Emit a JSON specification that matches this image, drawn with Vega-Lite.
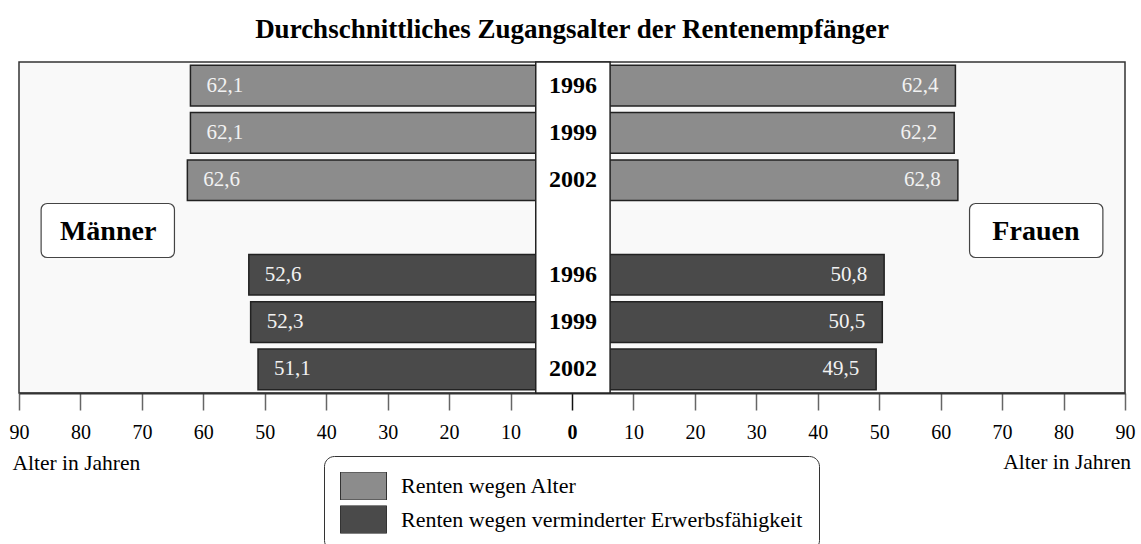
{
  "$schema": "https://vega.github.io/schema/vega-lite/v6.json",
  "width": 1106,
  "height": 331,
  "autosize": {"type": "none"},
  "padding": {"left": 19, "top": 62, "right": 16, "bottom": 151},
  "background": "white",
  "config": {
    "font": "Liberation Serif",
    "locale": {"number": {"decimal": ",", "thousands": ".", "grouping": [3], "currency": ["", " €"]}},
    "view": {"fill": "#f9f9f9", "stroke": "#333333", "strokeWidth": 1.5},
    "axisY": {"disable": true},
    "axisX": {
      "titleFont": "Liberation Serif",
      "titleFontSize": 21.5,
      "titleFontWeight": "normal",
      "titleColor": "black",
      "titleAnchor": "start",
      "titleAlign": "left",
      "titleBaseline": "alphabetic",
      "titleX": -7,
      "titleY": 76,
      "labelFont": "Liberation Serif",
      "labelFontSize": 20,
      "labelColor": "black",
      "labelPadding": 12,
      "labelFlush": false,
      "labelOverlap": false,
      "domainColor": "#333333",
      "domainWidth": 2,
      "tickWidth": 1.5,
      "tickSize": 17,
      "grid": false
    }
  },
  "title": {
    "text": "Durchschnittliches Zugangsalter der Rentenempfänger",
    "font": "Liberation Serif",
    "fontSize": 27,
    "fontWeight": "bold",
    "color": "black",
    "anchor": "middle",
    "offset": 17
  },
  "datasets": {
    "renten": [
      {"Seite": "Männer", "Art": "Renten wegen Alter", "Jahr": "1996", "Zeile": "Alter 1996", "Alter": 62.1, "Wert": -62.1},
      {"Seite": "Männer", "Art": "Renten wegen Alter", "Jahr": "1999", "Zeile": "Alter 1999", "Alter": 62.1, "Wert": -62.1},
      {"Seite": "Männer", "Art": "Renten wegen Alter", "Jahr": "2002", "Zeile": "Alter 2002", "Alter": 62.6, "Wert": -62.6},
      {"Seite": "Männer", "Art": "Renten wegen verminderter Erwerbsfähigkeit", "Jahr": "1996", "Zeile": "Erwerbsminderung 1996", "Alter": 52.6, "Wert": -52.6},
      {"Seite": "Männer", "Art": "Renten wegen verminderter Erwerbsfähigkeit", "Jahr": "1999", "Zeile": "Erwerbsminderung 1999", "Alter": 52.3, "Wert": -52.3},
      {"Seite": "Männer", "Art": "Renten wegen verminderter Erwerbsfähigkeit", "Jahr": "2002", "Zeile": "Erwerbsminderung 2002", "Alter": 51.1, "Wert": -51.1},
      {"Seite": "Frauen", "Art": "Renten wegen Alter", "Jahr": "1996", "Zeile": "Alter 1996", "Alter": 62.4, "Wert": 62.4},
      {"Seite": "Frauen", "Art": "Renten wegen Alter", "Jahr": "1999", "Zeile": "Alter 1999", "Alter": 62.2, "Wert": 62.2},
      {"Seite": "Frauen", "Art": "Renten wegen Alter", "Jahr": "2002", "Zeile": "Alter 2002", "Alter": 62.8, "Wert": 62.8},
      {"Seite": "Frauen", "Art": "Renten wegen verminderter Erwerbsfähigkeit", "Jahr": "1996", "Zeile": "Erwerbsminderung 1996", "Alter": 50.8, "Wert": 50.8},
      {"Seite": "Frauen", "Art": "Renten wegen verminderter Erwerbsfähigkeit", "Jahr": "1999", "Zeile": "Erwerbsminderung 1999", "Alter": 50.5, "Wert": 50.5},
      {"Seite": "Frauen", "Art": "Renten wegen verminderter Erwerbsfähigkeit", "Jahr": "2002", "Zeile": "Erwerbsminderung 2002", "Alter": 49.5, "Wert": 49.5}
    ]
  },
  "layer": [
    {
      "data": {"name": "renten"},
      "mark": {"type": "bar", "stroke": "#222222", "strokeWidth": 1.5},
      "encoding": {
        "x": {
          "field": "Wert",
          "type": "quantitative",
          "title": "Alter in Jahren",
          "scale": {"domain": [-90, 90], "nice": false, "zero": true},
          "axis": {
            "values": [-90, -80, -70, -60, -50, -40, -30, -20, -10, 0, 10, 20, 30, 40, 50, 60, 70, 80, 90],
            "labelExpr": "abs(datum.value)",
            "labelFontWeight": {"condition": {"test": "datum.value === 0", "value": "bold"}, "value": "normal"},
            "tickColor": {"condition": {"test": "datum.value === 0", "value": "#111111"}, "value": "#666666"}
          }
        },
        "y": {
          "field": "Zeile",
          "type": "nominal",
          "scale": {
            "type": "band",
            "domain": ["Alter 1996", "Alter 1999", "Alter 2002", "Geschlecht", "Erwerbsminderung 1996", "Erwerbsminderung 1999", "Erwerbsminderung 2002"],
            "paddingInner": 0.14,
            "paddingOuter": 0.07
          }
        },
        "color": {
          "field": "Art",
          "type": "nominal",
          "scale": {
            "domain": ["Renten wegen Alter", "Renten wegen verminderter Erwerbsfähigkeit"],
            "range": ["#8c8c8c", "#4a4a4a"]
          },
          "legend": {
            "title": null,
            "orient": "none",
            "legendX": 305,
            "legendY": 394,
            "direction": "vertical",
            "fillColor": "white",
            "strokeColor": "#333333",
            "cornerRadius": 10,
            "padding": 16,
            "symbolType": "M-1,-0.609L1,-0.609L1,0.609L-1,0.609Z",
            "symbolSize": 2116,
            "symbolStrokeColor": "#333333",
            "symbolStrokeWidth": 1,
            "symbolOpacity": 1,
            "clipHeight": 28,
            "rowPadding": 5.5,
            "labelOffset": 14,
            "labelFont": "Liberation Serif",
            "labelFontSize": 22,
            "labelColor": "black",
            "labelLimit": 700
          }
        }
      }
    },
    {
      "data": {"name": "renten"},
      "transform": [{"filter": "datum.Seite === 'Männer'"}],
      "mark": {"type": "text", "font": "Liberation Serif", "align": "left", "baseline": "middle", "dx": 16, "fontSize": 21, "color": "#f2f2f2"},
      "encoding": {
        "x": {"field": "Wert", "type": "quantitative", "title": "Alter in Jahren"},
        "y": {"field": "Zeile", "type": "nominal"},
        "text": {"field": "Alter", "type": "quantitative", "format": ".1f"}
      }
    },
    {
      "data": {"name": "renten"},
      "transform": [{"filter": "datum.Seite === 'Frauen'"}],
      "mark": {"type": "text", "font": "Liberation Serif", "align": "right", "baseline": "middle", "dx": -17, "fontSize": 21, "color": "#f2f2f2"},
      "encoding": {
        "x": {"field": "Wert", "type": "quantitative", "title": "Alter in Jahren"},
        "y": {"field": "Zeile", "type": "nominal"},
        "text": {"field": "Alter", "type": "quantitative", "format": ".1f"}
      }
    },
    {
      "data": {"values": [{"Element": "Jahresspalte"}]},
      "mark": {"type": "rect", "fill": "white", "stroke": "#222222", "strokeWidth": 1.5},
      "encoding": {
        "x": {"datum": -5.9, "type": "quantitative", "title": "Alter in Jahren"},
        "x2": {"datum": 6.2}
      }
    },
    {
      "data": {"name": "renten"},
      "transform": [{"filter": "datum.Seite === 'Männer'"}],
      "mark": {"type": "text", "font": "Liberation Serif", "align": "center", "baseline": "middle", "dx": 1, "fontSize": 24, "fontWeight": "bold", "color": "black"},
      "encoding": {
        "x": {"datum": 0, "type": "quantitative", "title": "Alter in Jahren"},
        "y": {"field": "Zeile", "type": "nominal"},
        "text": {"field": "Jahr", "type": "nominal"}
      }
    },
    {
      "data": {"values": [{"Seite": "Männer"}]},
      "layer": [
        {
          "mark": {"type": "bar", "fill": "white", "stroke": "#444444", "strokeWidth": 1.2, "cornerRadius": 6, "size": 54, "yOffset": 3},
          "encoding": {
            "x": {"datum": -86.4, "type": "quantitative", "title": "Alter in Jahren"},
            "x2": {"datum": -64.7},
            "y": {"datum": "Geschlecht", "type": "nominal"}
          }
        },
        {
          "mark": {"type": "text", "font": "Liberation Serif", "align": "center", "baseline": "middle", "dy": 4, "fontSize": 28, "fontWeight": "bold", "color": "black"},
          "encoding": {
            "x": {"datum": -75.5, "type": "quantitative", "title": "Alter in Jahren"},
            "y": {"datum": "Geschlecht", "type": "nominal"},
            "text": {"field": "Seite", "type": "nominal"}
          }
        }
      ]
    },
    {
      "data": {"values": [{"Seite": "Frauen"}]},
      "layer": [
        {
          "mark": {"type": "bar", "fill": "white", "stroke": "#444444", "strokeWidth": 1.2, "cornerRadius": 6, "size": 54, "yOffset": 3},
          "encoding": {
            "x": {"datum": 64.7, "type": "quantitative", "title": "Alter in Jahren"},
            "x2": {"datum": 86.4},
            "y": {"datum": "Geschlecht", "type": "nominal"}
          }
        },
        {
          "mark": {"type": "text", "font": "Liberation Serif", "align": "center", "baseline": "middle", "dy": 4, "fontSize": 28, "fontWeight": "bold", "color": "black"},
          "encoding": {
            "x": {"datum": 75.5, "type": "quantitative", "title": "Alter in Jahren"},
            "y": {"datum": "Geschlecht", "type": "nominal"},
            "text": {"field": "Seite", "type": "nominal"}
          }
        }
      ]
    },
    {
      "data": {"values": [{"Beschriftung": "Alter in Jahren"}]},
      "mark": {"type": "text", "font": "Liberation Serif", "align": "right", "baseline": "alphabetic", "dx": 6, "dy": 100, "fontSize": 21.5, "color": "black"},
      "encoding": {
        "x": {"datum": 90, "type": "quantitative", "title": "Alter in Jahren"},
        "y": {"datum": "Erwerbsminderung 2002", "type": "nominal"},
        "text": {"field": "Beschriftung", "type": "nominal"}
      }
    }
  ]
}
